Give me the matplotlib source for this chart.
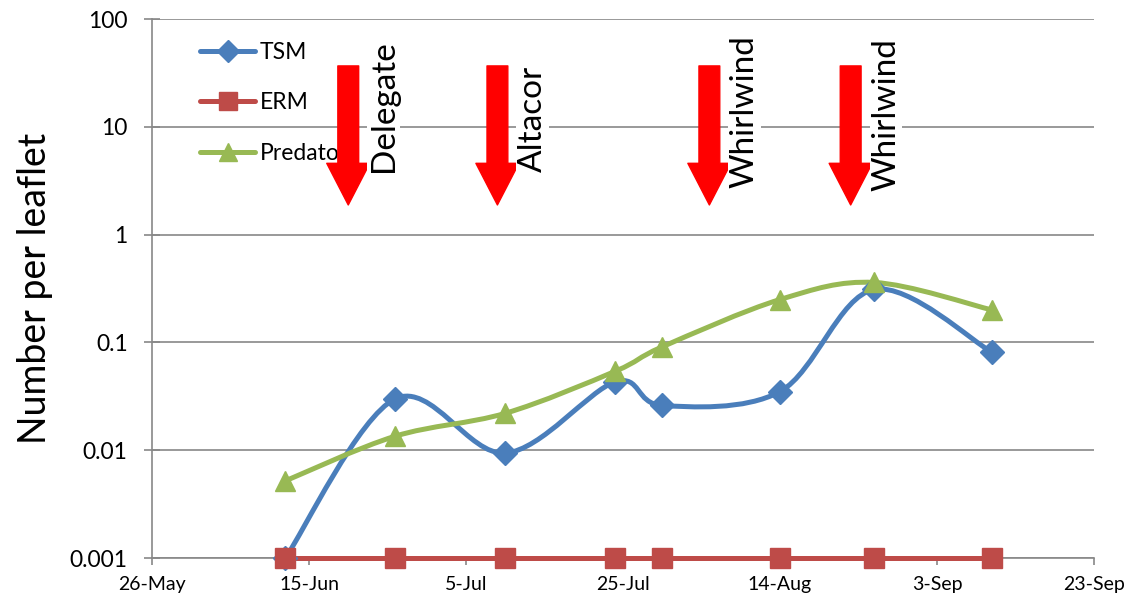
import numpy as np
import matplotlib
matplotlib.use('Agg')
import matplotlib.pyplot as plt
import matplotlib.dates as mdates
from matplotlib.path import Path
from matplotlib.patches import PathPatch
from matplotlib.lines import Line2D

# ---------------- data ----------------
sample_dates = ['2012-06-12', '2012-06-26', '2012-07-10', '2012-07-24',
                '2012-07-30', '2012-08-14', '2012-08-26', '2012-09-10']
tsm = [0.001, 0.030, 0.0094, 0.043, 0.026, 0.035, 0.31, 0.081]
erm = [0.001, 0.001, 0.001, 0.001, 0.001, 0.001, 0.001, 0.001]
predators = [0.0052, 0.0135, 0.022, 0.054, 0.091, 0.25, 0.36, 0.20]

spray_dates = ['2012-06-20', '2012-07-09', '2012-08-05', '2012-08-23']
spray_labels = ['Delegate', 'Altacor', 'Whirlwind', 'Whirlwind']

x_tick_dates = ['2012-05-26', '2012-06-15', '2012-07-05', '2012-07-25',
                '2012-08-14', '2012-09-03', '2012-09-23']
y_ticks = [0.001, 0.01, 0.1, 1, 10, 100]
y_tick_labels = ['0.001', '0.01', '0.1', '1', '10', '100']
y_label = 'Number per leaflet'
series_names = ['TSM', 'ERM', 'Predators']

# ---------------- style ----------------
FONT = ['Lato', 'DejaVu Sans']
plt.rcParams['font.family'] = FONT
C_TSM = '#4A7EBB'
C_ERM = '#BE4B48'
C_PRED = '#98B954'
GRID = '#888888'

fig = plt.figure(figsize=(11.26, 6.06), dpi=100)
ax = fig.add_axes([0.135, 0.0792, 0.8366, 0.8894])

xd = mdates.datestr2num(sample_dates)


def smooth_path(x, y):
    """Excel-like smoothed line: cubic Bezier (Catmull-Rom) through the points."""
    ly = np.log10(np.asarray(y, dtype=float))
    x = np.asarray(x, dtype=float)
    n = len(x)
    verts = [(x[0], 10 ** ly[0])]
    codes = [Path.MOVETO]
    for i in range(n - 1):
        i0 = max(i - 1, 0)
        i3 = min(i + 2, n - 1)
        c1x = x[i] + (x[i + 1] - x[i0]) / 6.0
        c1y = ly[i] + (ly[i + 1] - ly[i0]) / 6.0
        c2x = x[i + 1] - (x[i3] - x[i]) / 6.0
        c2y = ly[i + 1] - (ly[i3] - ly[i]) / 6.0
        verts += [(c1x, 10 ** c1y), (c2x, 10 ** c2y), (x[i + 1], 10 ** ly[i + 1])]
        codes += [Path.CURVE4, Path.CURVE4, Path.CURVE4]
    return Path(verts, codes)


ax.set_yscale('log')
ax.set_ylim(0.001, 100)
xt = mdates.datestr2num(x_tick_dates)
ax.set_xlim(xt[0], xt[-1])

LW = 3.6
MS_D, MS_S, MS_T = 12, 14, 14

# ERM straight line
ax.plot(xd, erm, color=C_ERM, lw=LW, zorder=3, solid_capstyle='round', clip_on=False)
# smoothed lines
ax.add_patch(PathPatch(smooth_path(xd, tsm), facecolor='none', edgecolor=C_TSM,
                       lw=LW, zorder=3, capstyle='round', clip_on=False))
ax.add_patch(PathPatch(smooth_path(xd, predators), facecolor='none', edgecolor=C_PRED,
                       lw=LW, zorder=3.1, capstyle='round', clip_on=False))
# markers
ax.plot(xd, tsm, linestyle='none', marker='D', ms=MS_D, color=C_TSM, zorder=4, clip_on=False)
ax.plot(xd, predators, linestyle='none', marker='^', ms=MS_T, color=C_PRED, zorder=4.1,
        clip_on=False)
ax.plot(xd, erm, linestyle='none', marker='s', ms=MS_S, color=C_ERM, zorder=4.2,
        clip_on=False)

# axes styling
ax.grid(axis='y', which='major', color=GRID, lw=1.2, zorder=0)
ax.set_axisbelow(True)
for s in ['top', 'right']:
    ax.spines[s].set_visible(False)
for s in ['left', 'bottom']:
    ax.spines[s].set_color(GRID)
    ax.spines[s].set_linewidth(1.2)

ax.set_yticks(y_ticks)
ax.set_yticklabels(y_tick_labels)
ax.yaxis.set_minor_locator(matplotlib.ticker.NullLocator())
ax.set_xticks(xt)
ax.xaxis.set_major_formatter(mdates.DateFormatter('%-d-%b'))
ax.tick_params(axis='y', direction='inout', length=11, width=1.2, color=GRID,
               labelsize=16.5, pad=12)
ax.tick_params(axis='x', direction='out', length=5, width=1.2, color=GRID,
               labelsize=16.5, pad=8)
ax.set_ylabel(y_label, fontsize=27, labelpad=12)

# legend
handles = [
    Line2D([], [], color=C_TSM, lw=LW, marker='D', ms=11, solid_capstyle='round'),
    Line2D([], [], color=C_ERM, lw=LW, marker='s', ms=13, solid_capstyle='round'),
    Line2D([], [], color=C_PRED, lw=LW, marker='^', ms=13, solid_capstyle='round'),
]
leg = ax.legend(handles, series_names, loc='upper left',
                bbox_to_anchor=(0.051, 0.958), frameon=False, fontsize=16.5,
                handlelength=2.4, handletextpad=0.2, labelspacing=1.3,
                borderaxespad=0, borderpad=0)
leg.set_zorder(5)

# spray arrows and labels
sd = mdates.datestr2num(spray_dates)
label_bottoms = [0.716, 0.716, 0.686, 0.681]
for d, lab, yb in zip(sd, spray_labels, label_bottoms):
    ax.annotate('', xy=(d, 0.655), xytext=(d, 0.913),
                xycoords=('data', 'axes fraction'),
                textcoords=('data', 'axes fraction'),
                arrowprops=dict(arrowstyle='simple,head_length=30,head_width=31,tail_width=15',
                                color='#FF0000', mutation_scale=1, shrinkA=0, shrinkB=0),
                zorder=6)
    ax.text(d + 4.5, yb, lab, rotation=90, ha='center', va='bottom',
            fontsize=24, transform=ax.get_xaxis_transform(), zorder=6,
            bbox=dict(facecolor='white', edgecolor='none', pad=1))

# make sure the last x tick label ("23-Sep") fits inside the figure
renderer = fig.canvas.get_renderer()
size = 16.5
for _ in range(20):
    ext = ax.get_xticklabels()[-1].get_window_extent(renderer)
    if ext.x1 <= fig.bbox.width - 1:
        break
    size -= 0.25
    ax.tick_params(axis='x', labelsize=size)

fig.savefig('out.png', dpi=100)
